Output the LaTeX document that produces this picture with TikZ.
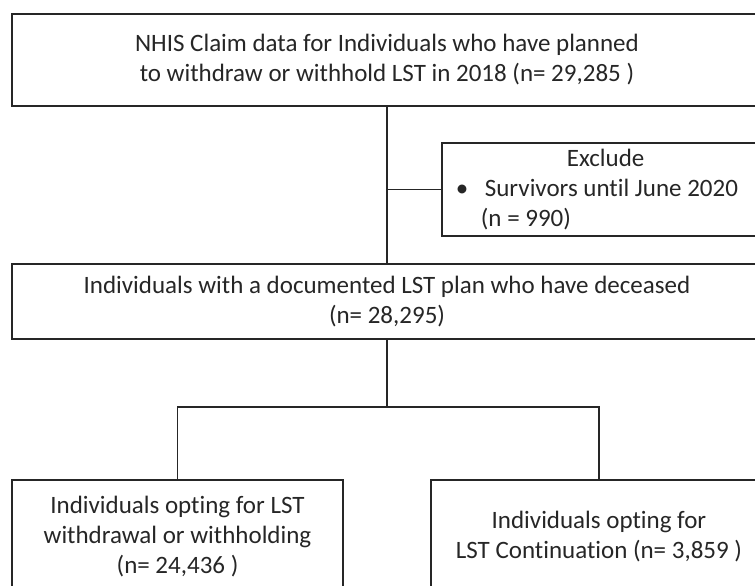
\documentclass[tikz,border=0pt]{standalone}
\usepackage{fontspec}
\setmainfont{Carlito}[Ligatures=NoCommon]
\usetikzlibrary{positioning}

\begin{document}
\begin{tikzpicture}[x=1pt, y=-1pt,
        stage/.style={draw=black!85, line width=1.8pt, text=black!85, inner sep=0pt,
            align=center, font=\fontsize{25}{30}\selectfont},
        link/.style={draw=black!85, line width=1.4pt}]
    \useasboundingbox (0,0) rectangle (755,586);

    \node[stage, minimum width=750pt, minimum height=92pt] (claims) at (387,60)
        {NHIS Claim data for Individuals who have planned\\to withdraw or withhold LST in 2018 (n= 29,285 )};
    \node[stage, anchor=north west, text width=300pt, inner xsep=14pt, minimum height=93pt, align=flush left] (exclude) at (441,142)
        {\hspace*{111pt}Exclude\\\makebox[29pt][l]{\textbullet}Survivors until June 2020\\\hspace*{25pt}(n = 990)};
    \node[stage, minimum width=750pt, minimum height=75pt] (deceased) at (387,301.5)
        {Individuals with a documented LST plan who have deceased\\(n= 28,295)};
    \node[stage, minimum width=331pt, minimum height=114pt] (withdraw) at (177.5,537)
        {Individuals opting for LST\\withdrawal or withholding\\(n= 24,436 )};
    \node[stage, minimum width=336pt, minimum height=114pt] (continue) at (599,537)
        {Individuals opting for\\LST Continuation (n= 3,859 )};

    \coordinate (fork) at (387,407);
    \draw[link] (claims.south) -- (deceased.north);
    \draw[link] (exclude.west) -- (exclude.west -| claims.south);
    \draw[link] (deceased.south) -- (fork);
    \draw[link] (withdraw.north) |- (fork) -| (continue.north);
\end{tikzpicture}
\end{document}
